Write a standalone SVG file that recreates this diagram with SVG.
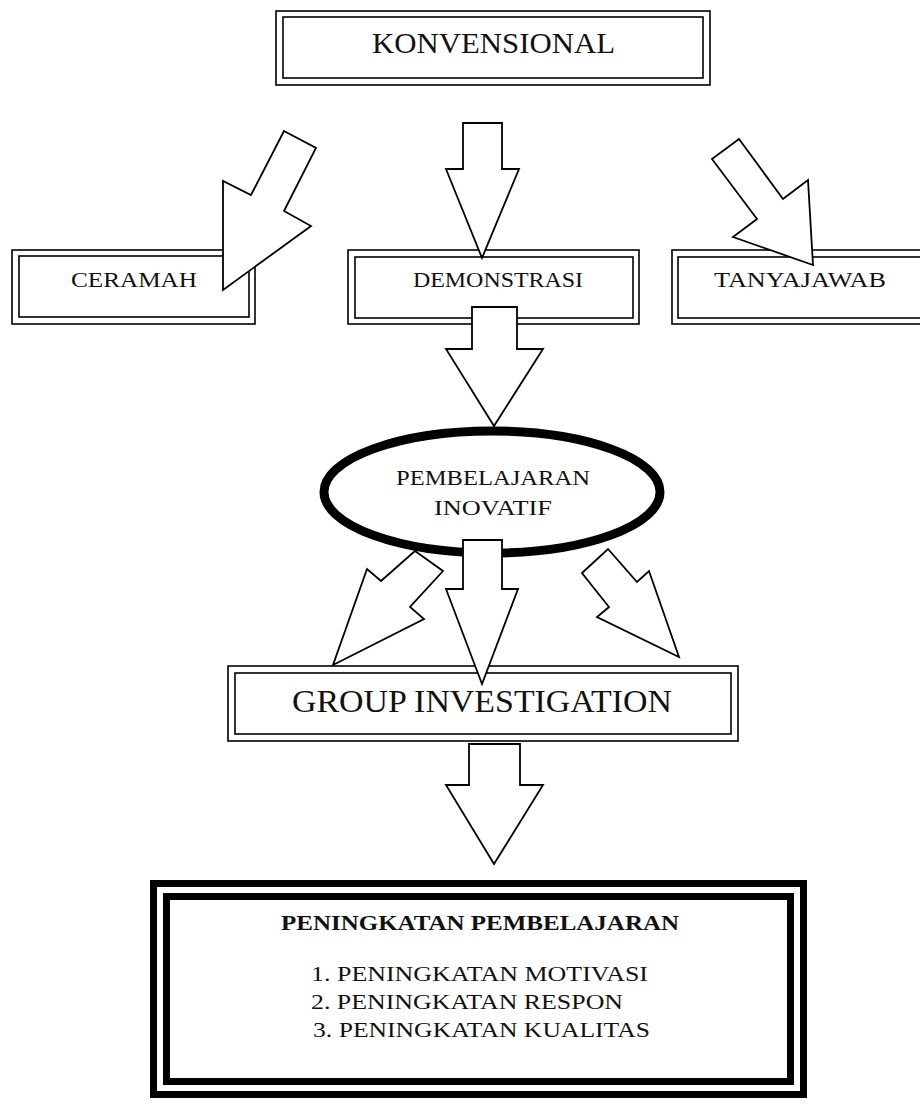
<svg xmlns="http://www.w3.org/2000/svg" width="920" height="1104" viewBox="0 0 920 1104">
<style>
.bx{fill:#fff;stroke:#000;stroke-width:1.6}
.bi{fill:none;stroke:#000;stroke-width:1.6}
.ar{fill:#fff;stroke:#000;stroke-width:1.8;stroke-linejoin:miter}
.t{font-family:"Liberation Serif","Times New Roman",serif;fill:#111}
.thick{fill:none;stroke:#000;stroke-width:7}
</style>
<rect width="920" height="1104" fill="#fff"/>
<g id="konvensional">
<rect class="bx" x="276" y="11" width="434" height="74"/>
<rect class="bi" x="283" y="17" width="420" height="61"/>
<text class="t" x="372" y="53" font-size="30" textLength="243" lengthAdjust="spacingAndGlyphs">KONVENSIONAL</text>
</g>
<g id="ceramah">
<rect class="bx" x="12" y="250" width="243" height="74"/>
<rect class="bi" x="19" y="256" width="230" height="61"/>
<text class="t" x="71" y="287" font-size="22" textLength="126" lengthAdjust="spacingAndGlyphs">CERAMAH</text>
</g>
<g id="demonstrasi">
<rect class="bx" x="348" y="250" width="291" height="74"/>
<rect class="bi" x="355" y="257" width="278" height="61"/>
<text class="t" x="413" y="287" font-size="22" textLength="170" lengthAdjust="spacingAndGlyphs">DEMONSTRASI</text>
</g>
<g id="tanyajawab">
<rect class="bx" x="672" y="250" width="258" height="74"/>
<rect class="bi" x="678" y="257" width="246" height="61"/>
<text class="t" x="714" y="287" font-size="22" textLength="172" lengthAdjust="spacingAndGlyphs">TANYAJAWAB</text>
</g>
<g id="pembelajaran-inovatif">
<ellipse cx="492" cy="492" rx="168" ry="61" fill="#fff" stroke="#000" stroke-width="9"/>
<text class="t" x="396" y="485" font-size="22" textLength="194" lengthAdjust="spacingAndGlyphs">PEMBELAJARAN</text>
<text class="t" x="434" y="515" font-size="22" textLength="118" lengthAdjust="spacingAndGlyphs">INOVATIF</text>
</g>
<g id="group-investigation">
<rect class="bx" x="228" y="666" width="510" height="75"/>
<rect class="bi" x="235" y="673" width="496" height="61"/>
<text class="t" x="292" y="712" font-size="32" textLength="380" lengthAdjust="spacingAndGlyphs">GROUP INVESTIGATION</text>
</g>
<g id="peningkatan-pembelajaran">
<rect x="150" y="880" width="657" height="218" fill="#fff"/>
<rect class="thick" x="153.5" y="883.5" width="650" height="211"/>
<rect class="thick" x="166.5" y="896.5" width="624" height="185"/>
<text class="t" x="281" y="930" font-size="22" font-weight="bold" textLength="398" lengthAdjust="spacingAndGlyphs">PENINGKATAN PEMBELAJARAN</text>
<text class="t" x="311" y="981" font-size="22" textLength="337" lengthAdjust="spacingAndGlyphs">1. PENINGKATAN MOTIVASI</text>
<text class="t" x="311" y="1009" font-size="22" textLength="312" lengthAdjust="spacingAndGlyphs">2. PENINGKATAN RESPON</text>
<text class="t" x="313" y="1037" font-size="22" textLength="337" lengthAdjust="spacingAndGlyphs">3. PENINGKATAN KUALITAS</text>
</g>
<g id="connectors">
<polygon class="ar" points="284,131 316,148 284,211 311,226 223,290 223,181 251,195"/>
<polygon class="ar" points="463,123 502,123 502,169 519,169 482,258 446,169 463,169"/>
<polygon class="ar" points="712,159 739,139 783,199 808,180 813,265 733,237 757,219"/>
<polygon class="ar" points="472,307 517,307 517,349 543,349 494,426 446,349 472,349"/>
<polygon class="ar" points="415,551 443,571 410,607 424,619 333,665 367,569 381,581"/>
<polygon class="ar" points="463,540 502,540 502,589 518,589 482,684 446,589 463,589"/>
<polygon class="ar" points="582,573 608,549 637,582 649,571 679,657 597,617 609,607"/>
<polygon class="ar" points="469,744 520,744 520,785 543,785 494,864 446,785 469,785"/>
</g>
</svg>
